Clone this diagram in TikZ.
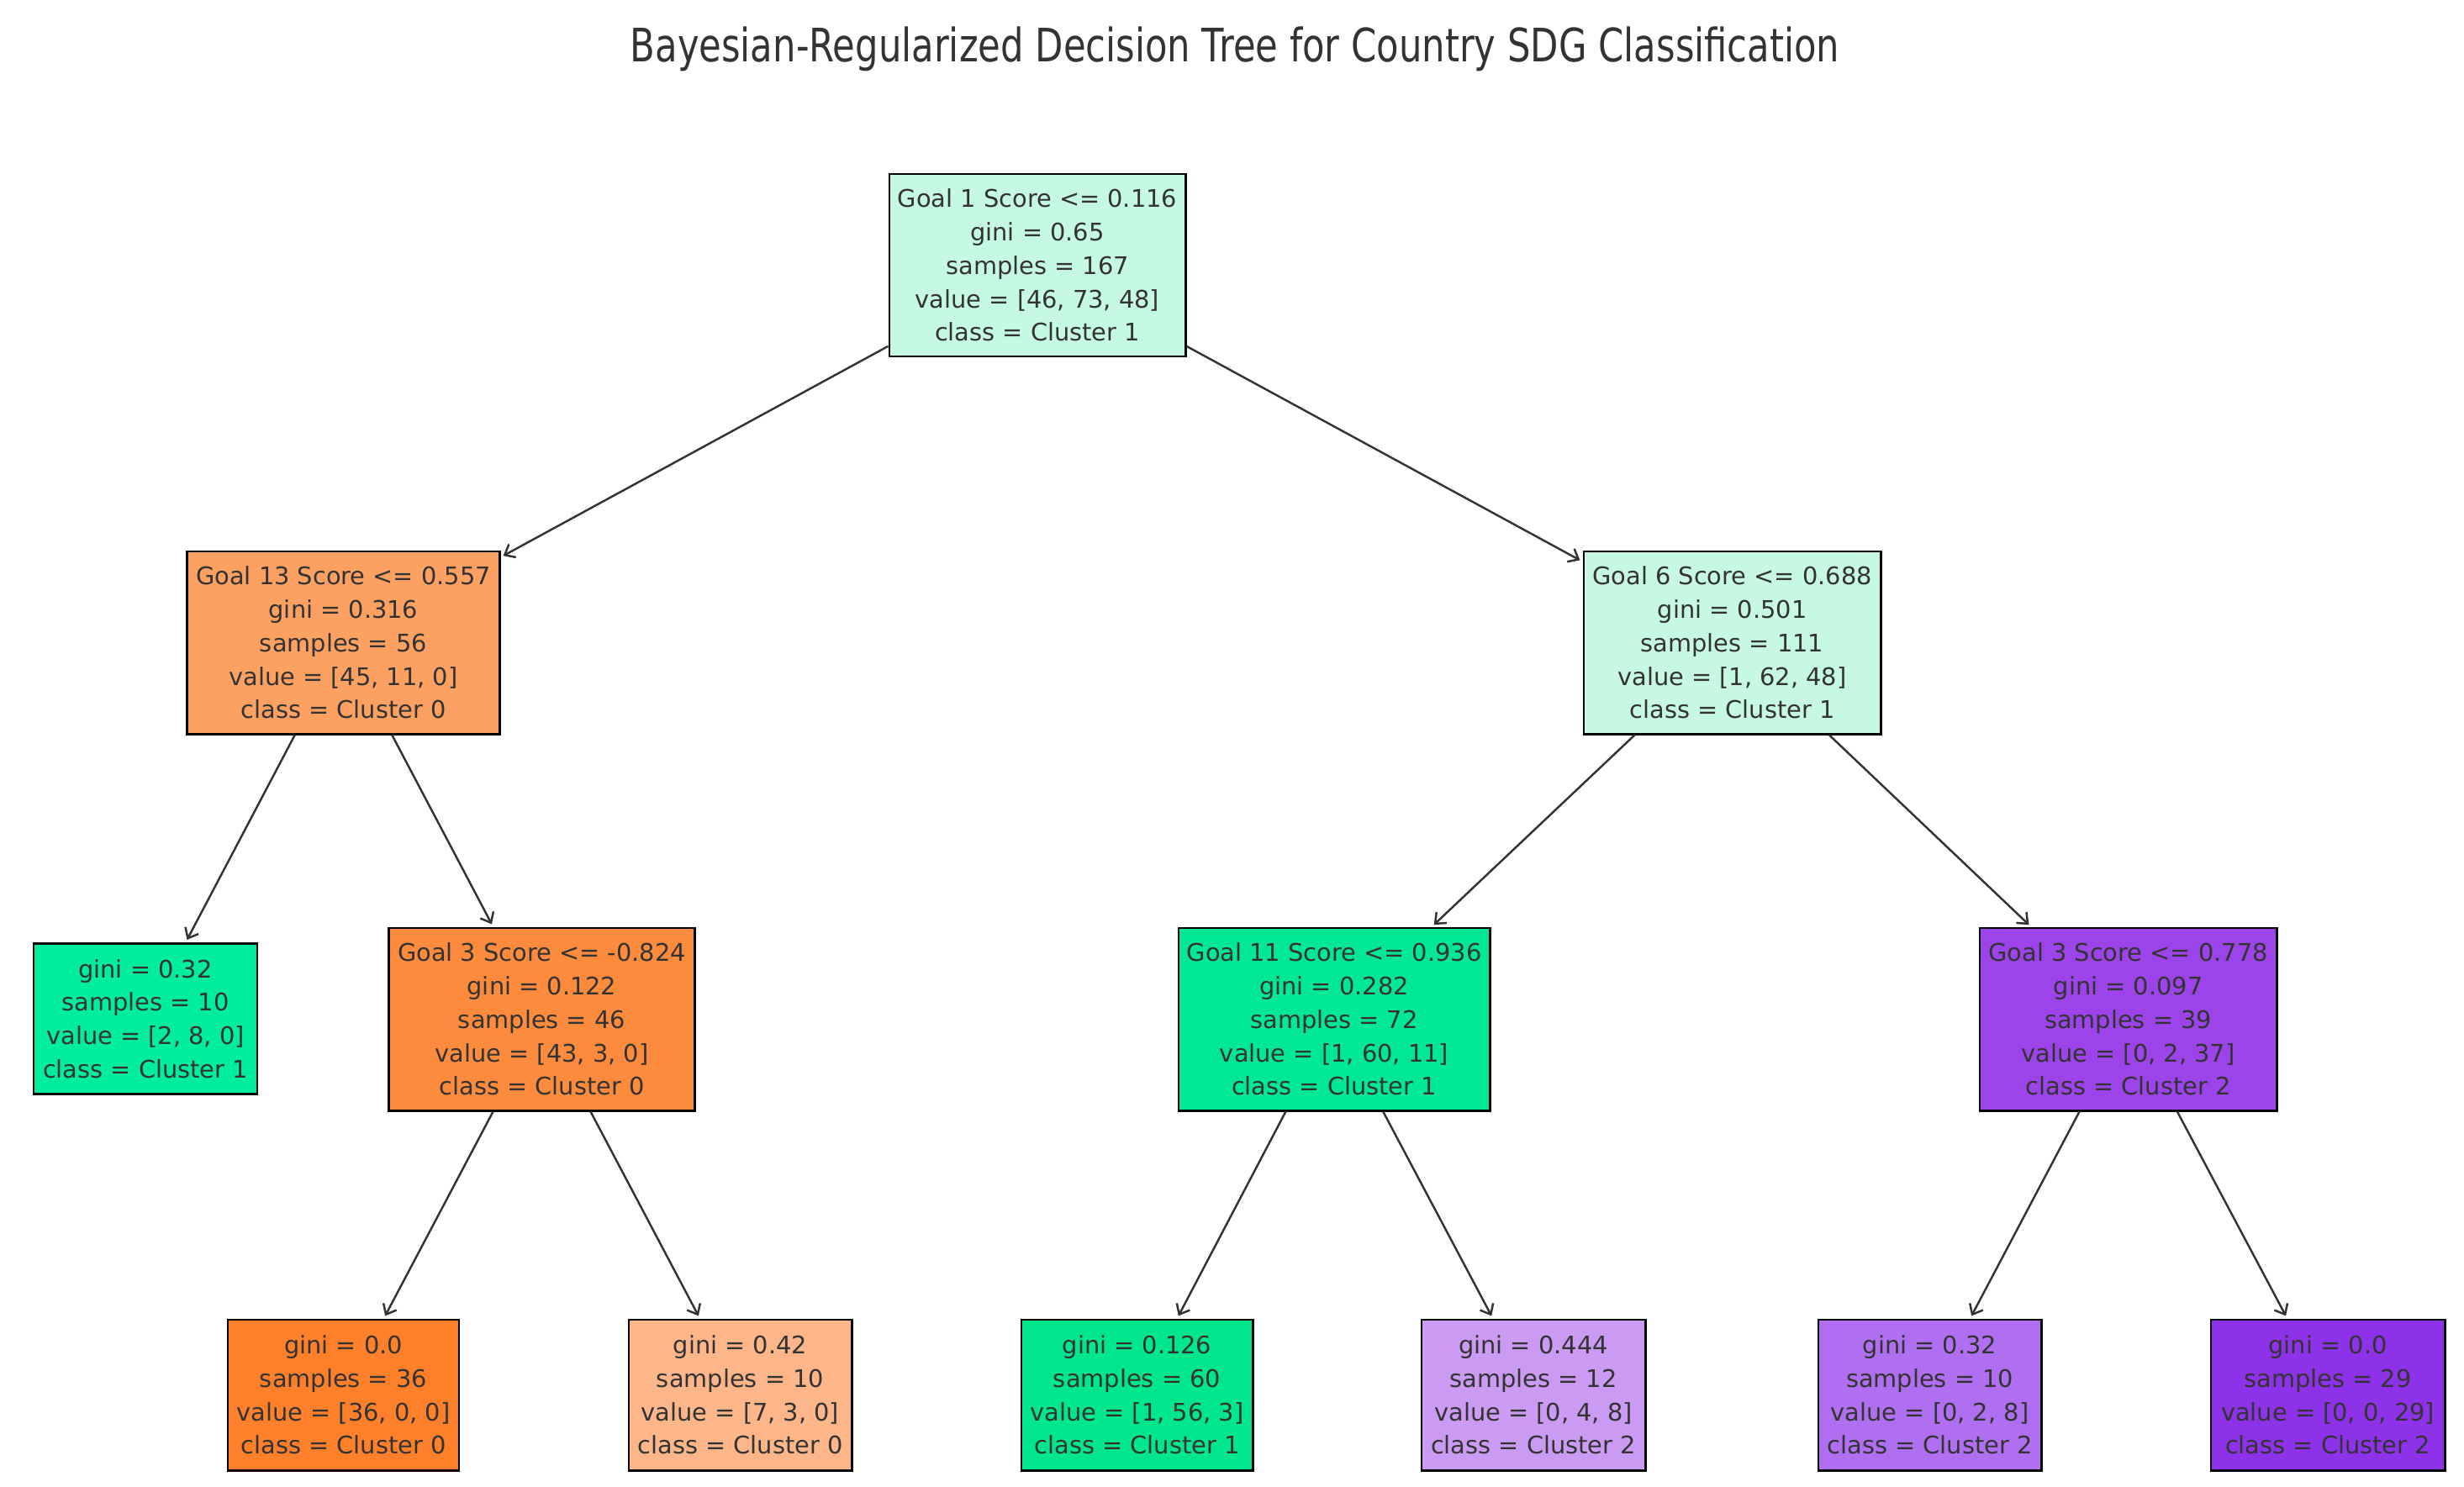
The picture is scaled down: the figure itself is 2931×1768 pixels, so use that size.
\documentclass[tikz,border=0pt]{standalone}
\usepackage{fontspec}
\setmainfont{DejaVu Sans}
\newfontfamily\titlefont{DejaVu Sans}[FakeStretch=0.79]
\usetikzlibrary{arrows.meta}
\definecolor{txtgray}{HTML}{333333}
\definecolor{arrgray}{HTML}{333333}
\definecolor{mintA}{HTML}{C5F9E3}
\definecolor{mintB}{HTML}{C6F8E2}
\definecolor{orgL1}{HTML}{FCA162}
\definecolor{orgN}{HTML}{FD8B3D}
\definecolor{orgLeafA}{HTML}{FE802B}
\definecolor{orgLeafB}{HTML}{FDB68A}
\definecolor{grnLeafA}{HTML}{00EC9E}
\definecolor{grnN}{HTML}{00E894}
\definecolor{grnLeafB}{HTML}{00E68C}
\definecolor{purN}{HTML}{9C44EA}
\definecolor{purLeafA}{HTML}{CB9BF3}
\definecolor{purLeafB}{HTML}{B06FF0}
\definecolor{purLeafC}{HTML}{8E32E9}
\begin{document}
\begin{tikzpicture}[x=0.01cm,y=-0.01cm,
  treebox/.style={draw=black, line width=0.8pt, rectangle, inner sep=0pt, align=center,
    text=txtgray, font=\fontsize{8.2}{11.3}\selectfont},
  bigbox/.style={treebox, minimum height=21.7mm},
  leafbox/.style={treebox, minimum height=17.9mm},
  edge/.style={draw=arrgray, line width=0.7pt, -{Straight Barb[length=3pt,width=5pt]}, shorten >=1pt}]
\useasboundingbox (0,0) rectangle (2931,1768);
\node[anchor=base, text=txtgray, font=\titlefont\fontsize{15.6}{18}\selectfont] (title) at (1469,73)
  {Bayesian-Regularized Decision Tree for Country SDG Classification};
% level 0
\node[bigbox, fill=mintA, minimum width=35.2mm] (root) at (1234,315.5)
  {Goal 1 Score <= 0.116\\gini = 0.65\\samples = 167\\value = [46, 73, 48]\\class = Cluster 1};
% level 1
\node[bigbox, fill=orgL1, minimum width=37.1mm] (n1) at (408.5,764.5)
  {Goal 13 Score <= 0.557\\gini = 0.316\\samples = 56\\value = [45, 11, 0]\\class = Cluster 0};
\node[bigbox, fill=mintB, minimum width=35.3mm] (n2) at (2060.5,764.5)
  {Goal 6 Score <= 0.688\\gini = 0.501\\samples = 111\\value = [1, 62, 48]\\class = Cluster 1};
% level 2
\node[leafbox, fill=grnLeafA, minimum width=26.6mm] (n3) at (173,1212)
  {gini = 0.32\\samples = 10\\value = [2, 8, 0]\\class = Cluster 1};
\node[bigbox, fill=orgN, minimum width=36.3mm] (n4) at (644.5,1212.5)
  {Goal 3 Score <= -0.824\\gini = 0.122\\samples = 46\\value = [43, 3, 0]\\class = Cluster 0};
\node[bigbox, fill=grnN, minimum width=37.0mm] (n5) at (1587,1212.5)
  {Goal 11 Score <= 0.936\\gini = 0.282\\samples = 72\\value = [1, 60, 11]\\class = Cluster 1};
\node[bigbox, fill=purN, minimum width=35.3mm] (n6) at (2531.5,1212.5)
  {Goal 3 Score <= 0.778\\gini = 0.097\\samples = 39\\value = [0, 2, 37]\\class = Cluster 2};
% level 3
\node[leafbox, fill=orgLeafA, minimum width=27.5mm] (l1) at (408.5,1659.5)
  {gini = 0.0\\samples = 36\\value = [36, 0, 0]\\class = Cluster 0};
\node[leafbox, fill=orgLeafB, minimum width=26.5mm] (l2) at (880.5,1659.5)
  {gini = 0.42\\samples = 10\\value = [7, 3, 0]\\class = Cluster 0};
\node[leafbox, fill=grnLeafB, minimum width=27.5mm] (l3) at (1352.5,1659.5)
  {gini = 0.126\\samples = 60\\value = [1, 56, 3]\\class = Cluster 1};
\node[leafbox, fill=purLeafA, minimum width=26.6mm] (l4) at (1824,1659.5)
  {gini = 0.444\\samples = 12\\value = [0, 4, 8]\\class = Cluster 2};
\node[leafbox, fill=purLeafB, minimum width=26.5mm] (l5) at (2295.5,1659.5)
  {gini = 0.32\\samples = 10\\value = [0, 2, 8]\\class = Cluster 2};
\node[leafbox, fill=purLeafC, minimum width=27.8mm] (l6) at (2769,1659.5)
  {gini = 0.0\\samples = 29\\value = [0, 0, 29]\\class = Cluster 2};
% edges
\draw[edge] (root) -- (n1);
\draw[edge] (root) -- (n2);
\draw[edge] (n1) -- (n3);
\draw[edge] (n1) -- (n4);
\draw[edge] (n2) -- (n5);
\draw[edge] (n2) -- (n6);
\draw[edge] (n4) -- (l1);
\draw[edge] (n4) -- (l2);
\draw[edge] (n5) -- (l3);
\draw[edge] (n5) -- (l4);
\draw[edge] (n6) -- (l5);
\draw[edge] (n6) -- (l6);
\end{tikzpicture}
\end{document}
